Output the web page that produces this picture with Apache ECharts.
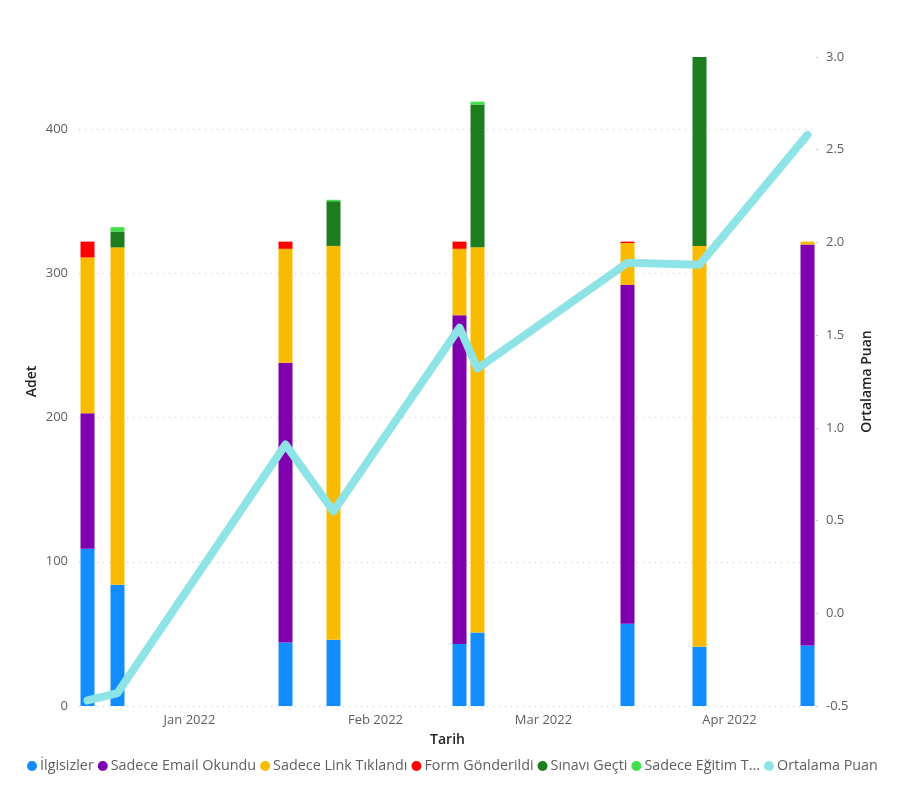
<!DOCTYPE html>
<html>
<head>
<meta charset="utf-8">
<script src="https://cdn.jsdelivr.net/npm/echarts@6/dist/echarts.min.js"></script>
<style>
html,body{margin:0;padding:0;background:#fff;}
#chart{width:923px;height:812px;}
</style>
</head>
<body>
<div id="chart"></div>
<script>
// ---- data ----
const dates = ['2021-12-15','2021-12-20','2022-01-17','2022-01-25','2022-02-15','2022-02-18','2022-03-15','2022-03-27','2022-04-14'];
const ilgisizler = [109, 84, 44, 46, 43, 51, 57, 41, 42];
const emailOkundu = [94, null, 194, null, 228, null, 235, null, 278];
const linkTiklandi = [108, 234, 79, 273, 46, 267, 29, 278, 2];
const formGonderildi = [11, null, 5, null, 5, null, 1, null, null];
const sinaviGecti = [null, 11, null, 31, null, 99, null, 132, null];
const egitimTamamlandi = [null, 3, null, 1, null, 2, null, null, null];
const ortalamaPuan = [-0.47, -0.43, 0.91, 0.55, 1.54, 1.32, 1.89, 1.88, 2.58];
const seriesNames = ['İlgisizler','Sadece Email Okundu','Sadece Link Tıklandı','Form Gönderildi','Sınavı Geçti','Sadece Eğitim Tamamlandı','Ortalama Puan'];
const tickDates = ['2022-01-01','2022-02-01','2022-03-01','2022-04-01'];
const tickLabels = ['Jan 2022','Feb 2022','Mar 2022','Apr 2022'];
const xRange = ['2021-12-14 18:00','2022-04-14 06:00'];

function ts(s){
  const [d, t] = s.split(' ');
  const [y,m,dd] = d.split('-').map(Number);
  let h = 0;
  if (t) h = Number(t.split(':')[0]);
  return Date.UTC(y, m-1, dd, h);
}
const times = dates.map(ts);
const tickTimes = tickDates.map(ts);
const pair = arr => arr.map((v,i) => [times[i], v == null ? 0 : v]);

const colors = ['#118DFF','#7F00AF','#F9BB00','#FF0000','#1E7D1F','#3FE048','#8EE3E6'];
const font = "'Segoe UI','Open Sans',sans-serif";
const grid = '#C8C6C4';

const barData = [ilgisizler, emailOkundu, linkTiklandi, formGonderildi, sinaviGecti, egitimTamamlandi];
const series = barData.map((arr, i) => ({
  name: seriesNames[i],
  type: 'bar',
  stack: 'total',
  barWidth: 14,
  itemStyle: {color: colors[i]},
  data: pair(arr)
}));
series.push({
  name: seriesNames[6],
  type: 'line',
  yAxisIndex: 1,
  showSymbol: false,
  symbol: 'circle',
  z: 5,
  itemStyle: {color: colors[6]},
  lineStyle: {color: colors[6], width: 8, cap: 'round', join: 'round'},
  data: ortalamaPuan.map((v,i) => [times[i], v])
});

const chart = echarts.init(document.getElementById('chart'));
chart.setOption({
  animation: false,
  useUTC: true,
  textStyle: {fontFamily: font},
  grid: {left: 79, right: 107, top: 57, bottom: 106, containLabel: false},
  legend: {
    left: 22, top: 754,
    icon: 'circle', itemWidth: 10, itemHeight: 10, itemGap: 4,
    textStyle: {color: '#605E5C', fontSize: 14.35, fontFamily: font, padding: [0,0,0,-2]},
    formatter: n => n.length > 20 ? n.slice(0,15) + '...' : n,
    data: seriesNames
  },
  xAxis: {
    type: 'time',
    min: ts(xRange[0]), max: ts(xRange[1]),
    minInterval: 28 * 86400000, maxInterval: 31 * 86400000,
    name: 'Tarih', nameLocation: 'middle', nameGap: 27,
    nameTextStyle: {color: '#252423', fontSize: 14, fontWeight: 600, fontFamily: font},
    axisLine: {show: false}, axisTick: {show: false},
    splitLine: {show: false},
    axisLabel: {
      color: '#605E5C', fontSize: 13, margin: 8, hideOverlap: false,
      showMinLabel: false, showMaxLabel: false,
      formatter: v => { const i = tickTimes.indexOf(v); return i >= 0 ? tickLabels[i] : ''; }
    }
  },
  yAxis: [{
    type: 'value', min: 0, max: 450, interval: 100,
    name: 'Adet', nameLocation: 'middle', nameGap: 40, nameRotate: 90, nameMoveOverlap: false,
    nameTextStyle: {color: '#252423', fontSize: 14, fontWeight: 600, fontFamily: font},
    axisLine: {show: false}, axisTick: {show: false},
    axisLabel: {color: '#605E5C', fontSize: 13, margin: 11, showMaxLabel: false},
    splitLine: {show: true, lineStyle: {color: [grid,grid,grid,grid,grid,'rgba(0,0,0,0)'], type: [1,5], width: 1}}
  },{
    type: 'value', min: -0.5, max: 3.0, interval: 0.5,
    name: 'Ortalama Puan', nameLocation: 'middle', nameGap: 44, nameRotate: 90,
    nameTextStyle: {color: '#252423', fontSize: 14, fontWeight: 600, fontFamily: font},
    axisLine: {show: false},
    axisTick: {show: true, length: 2, lineStyle: {color: grid}},
    axisLabel: {color: '#605E5C', fontSize: 13, margin: 10, formatter: v => v.toFixed(1)},
    splitLine: {show: false}
  }],
  series: series
});
</script>
</body>
</html>
